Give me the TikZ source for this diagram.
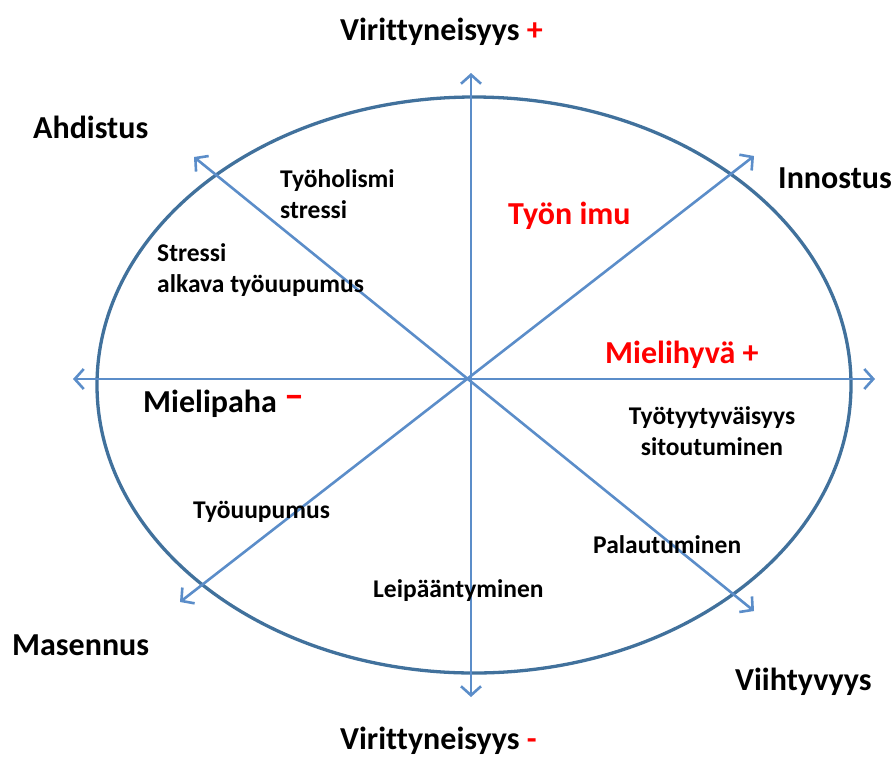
\documentclass[tikz,border=0pt]{standalone}
\usepackage{fontspec}
\setmainfont[Ligatures=NoCommon]{Carlito}
\usetikzlibrary{arrows.meta}
\definecolor{ellblue}{HTML}{41719C}
\definecolor{arrblue}{HTML}{5B8DC9}
\definecolor{lblred}{HTML}{FF0000}
\tikzset{
  axis/.style={draw=arrblue, line width=2.6pt, {Straight Barb[length=9pt,width=20pt,line width=2.6pt]}-{Straight Barb[length=9pt,width=20pt,line width=2.6pt]}},
  biglbl/.style={inner sep=0pt, anchor=base west, font=\fontsize{32}{36}\selectfont\bfseries},
  smalllbl/.style={inner sep=0pt, anchor=base west, font=\fontsize{25.5}{31.5}\selectfont\bfseries},
  redlbl/.style={text=lblred}
}
\begin{document}
\begin{tikzpicture}[x=1pt,y=-1pt]
\useasboundingbox (0,0) rectangle (894,756);
% ellipse
\draw[ellblue, line width=3.3pt] (474,385) ellipse [x radius=377, y radius=288];
% axis end points
\coordinate (c) at (471,379);
\coordinate (top) at (471,73);
\coordinate (bot) at (471,697);
\coordinate (lft) at (73,379);
\coordinate (rgt) at (875,379);
\coordinate (ur) at (754,156);
\coordinate (ul) at (194,157);
\coordinate (ll) at (180,602);
\coordinate (lr) at (754,611);
\draw[axis] (bot) -- (top);
\draw[axis] (lft) -- (rgt);
\draw[axis] (ll) -- (ur);
\draw[axis] (ul) -- (lr);
% outer labels
\node[biglbl] (vplus) at (340,40) {Virittyneisyys \textcolor{lblred}{+}};
\node[biglbl] (ahd) at (33,138) {Ahdistus};
\node[biglbl] (inn) at (778,188) {Innostus};
\node[biglbl] (mas) at (12,655) {Masennus};
\node[biglbl] (vii) at (735,690) {Viihtyvyys};
\node[biglbl] (vminus) at (340,749) {Virittyneisyys \textcolor{lblred}{-}};
% inner big labels
\node[biglbl, redlbl] (imu) at (508,224) {Työn imu};
\node[biglbl, redlbl] (hyva) at (605,363) {Mielihyvä +};
\node[biglbl] (paha) at (143,412) {Mielipaha\hspace{8pt}\textcolor{lblred}{\raisebox{4pt}{\fontsize{40}{40}\selectfont\bfseries –}}};
% small labels
\node[smalllbl, align=left, anchor=north west] (hol) at (280,169) {Työholismi\\stressi};
\node[smalllbl, align=left, anchor=north west] (str) at (157,243) {Stressi\\alkava työuupumus};
\node[smalllbl] (uup) at (193,518) {Työuupumus};
\node[smalllbl] (leip) at (373,597) {Leipääntyminen};
\node[smalllbl, align=center, anchor=north] (tyyt) at (712,406) {Työtyytyväisyys\\sitoutuminen};
\node[smalllbl] (pal) at (593,553) {Palautuminen};
\end{tikzpicture}
\end{document}
